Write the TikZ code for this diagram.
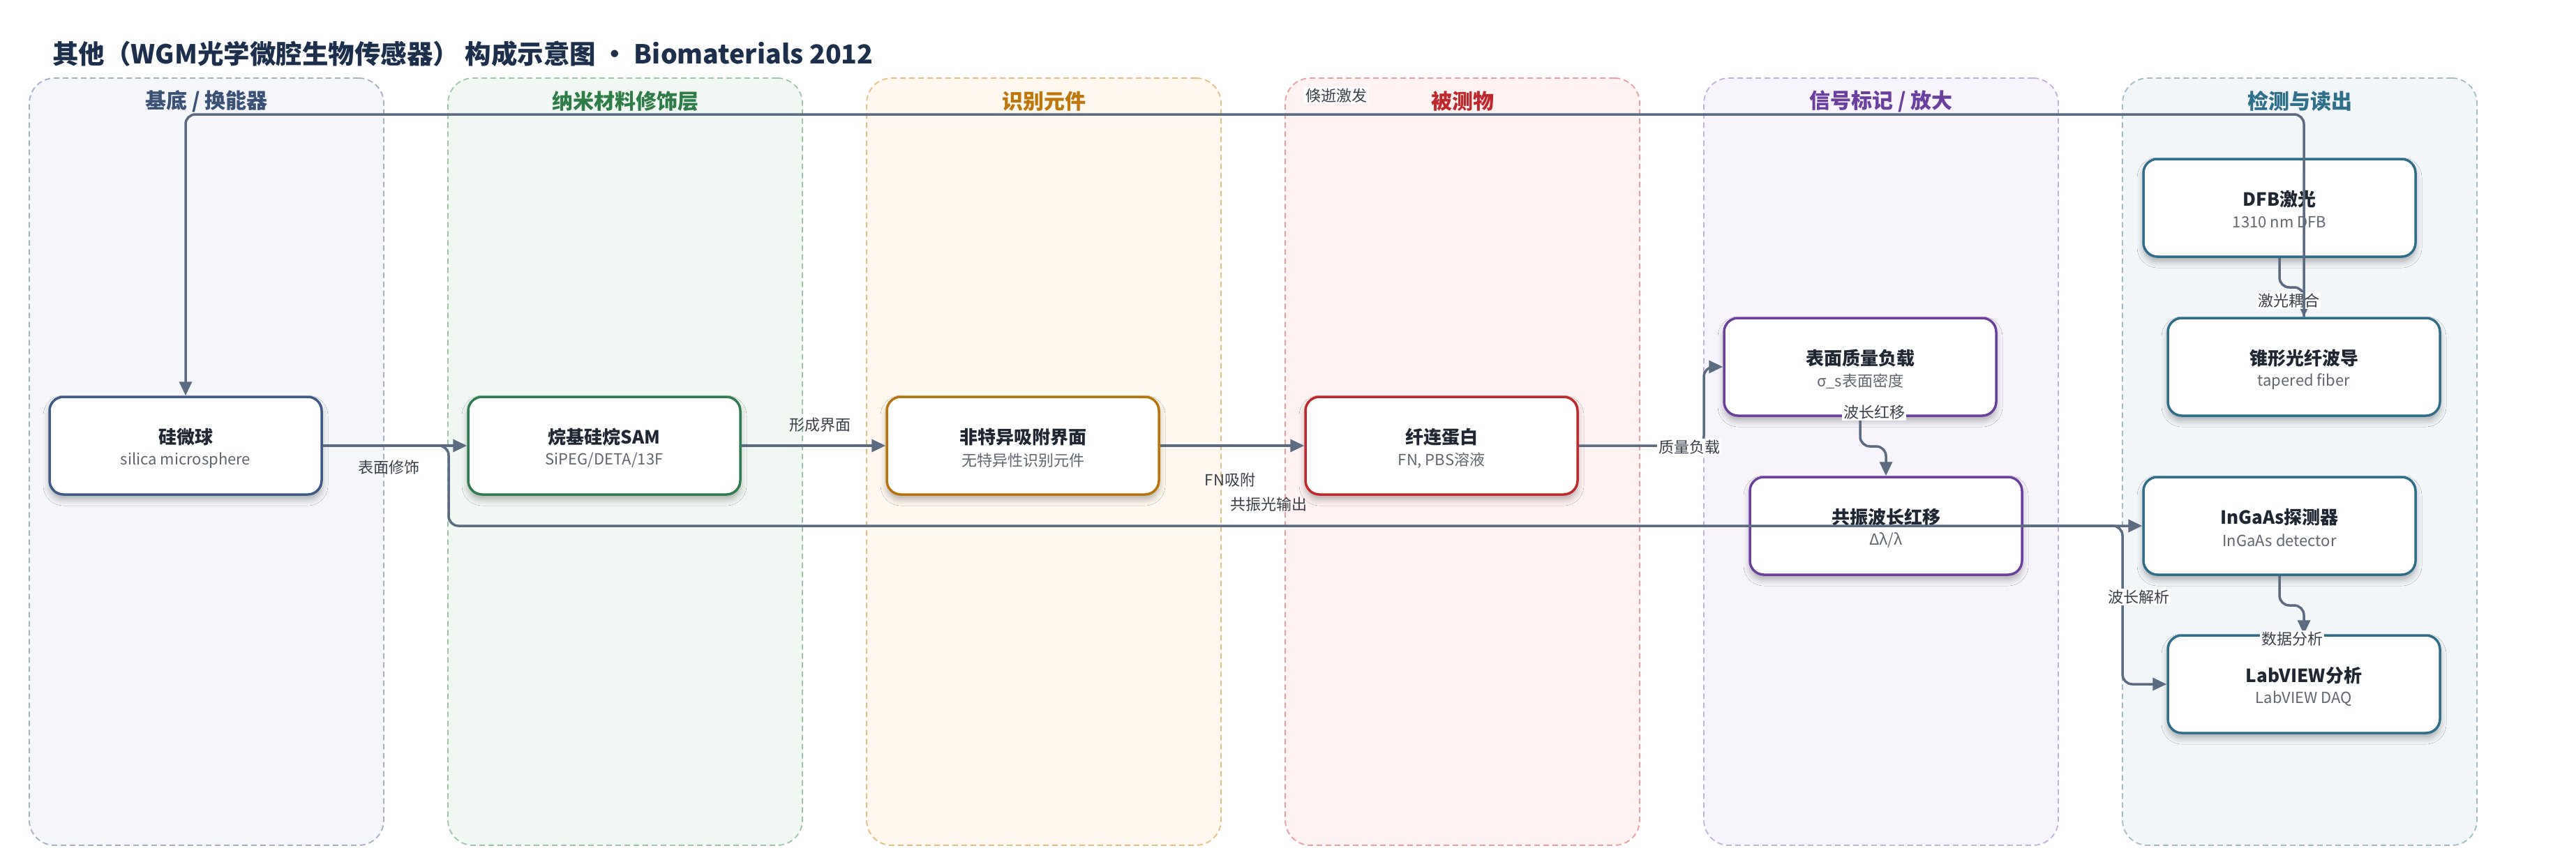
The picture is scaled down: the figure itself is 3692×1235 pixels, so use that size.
\documentclass[tikz,border=0pt]{standalone}
\usepackage{fontspec}
\setmainfont{Noto Sans CJK SC}
\usetikzlibrary{arrows.meta,calc,shadows.blur}
\newcommand\fsz[1]{\fontsize{#1}{#1}\selectfont}
\definecolor{edgec}{HTML}{5B6B82}
\definecolor{titlec}{HTML}{1C2F4D}
\definecolor{ink}{HTML}{1F2733}
\definecolor{subc}{HTML}{5F6670}
\definecolor{labc}{HTML}{3A404A}
\definecolor{LAf}{HTML}{F4F6FA}\definecolor{LAb}{HTML}{A3B1C6}\definecolor{LAt}{HTML}{3A5278}
\definecolor{LBf}{HTML}{F1F8F3}\definecolor{LBb}{HTML}{9CC8A8}\definecolor{LBt}{HTML}{2E7D46}
\definecolor{LCf}{HTML}{FEF8EF}\definecolor{LCb}{HTML}{E8BE80}\definecolor{LCt}{HTML}{BF760C}
\definecolor{LDf}{HTML}{FEF3F2}\definecolor{LDb}{HTML}{EB9E9C}\definecolor{LDt}{HTML}{C0292B}
\definecolor{LEf}{HTML}{F7F4FB}\definecolor{LEb}{HTML}{C4B0E0}\definecolor{LEt}{HTML}{6B3FA0}
\definecolor{LFf}{HTML}{F2F6F8}\definecolor{LFb}{HTML}{A0BDC8}\definecolor{LFt}{HTML}{2E6F8C}
\definecolor{NA}{HTML}{3D5A88}
\definecolor{NB}{HTML}{2E7D4E}
\definecolor{NC}{HTML}{B8730C}
\definecolor{ND}{HTML}{C0292B}
\definecolor{NE}{HTML}{6B3FA0}
\definecolor{NF}{HTML}{2E6E8A}
\tikzset{
  lanebox/.style n args={2}{fill=#1, draw=#2, line width=1.8pt, dash pattern=on 8pt off 5pt,
    rounded corners=36pt, minimum width=508pt, minimum height=1100pt, inner sep=0pt},
  lanetitle/.style={font=\fsz{30}\bfseries, inner sep=0pt},
  box/.style={draw=#1, line width=3.5pt, fill=white, rounded corners=20pt,
    minimum width=390pt, minimum height=140pt, inner sep=0pt,
    blur shadow={shadow xshift=0pt, shadow yshift=-7pt, shadow blur radius=9pt, shadow opacity=30}},
  ntitle/.style={font=\fsz{26}\bfseries, text=ink, inner sep=0pt},
  nsub/.style={font=\fsz{22}, text=subc, inner sep=0pt},
  conn/.style={draw=edgec, line width=3.5pt, rounded corners=14pt, -{Triangle[length=20pt,width=18pt]}},
  elabel/.style={font=\fsz{22}, text=labc, inner sep=2pt},
  elabelbg/.style={elabel, fill=white},
}
\newcommand\mkbox[6]{%
  \node[box=#4] (#1) at (#2,#3) {};
  \node[ntitle] (#1-t) at (#2,#3-12) {#5};
  \node[nsub] (#1-s) at (#2,#3+21) {#6};}
\begin{document}
\begin{tikzpicture}[x=1pt,y=-1pt]
\useasboundingbox (0,0) rectangle (3692,1235);
\fill[white] (0,0) rectangle (3692,1235);

% lanes
\node[lanebox={LAf}{LAb}] (lane1) at (296,662) {};
\node[lanebox={LBf}{LBb}] (lane2) at (896,662) {};
\node[lanebox={LCf}{LCb}] (lane3) at (1496,662) {};
\node[lanebox={LDf}{LDb}] (lane4) at (2096,662) {};
\node[lanebox={LEf}{LEb}] (lane5) at (2696,662) {};
\node[lanebox={LFf}{LFb}] (lane6) at (3296,662) {};
\node[lanetitle, text=LAt] (lt1) at (296,145) {基底 / 换能器};
\node[lanetitle, text=LBt] (lt2) at (896,145) {纳米材料修饰层};
\node[lanetitle, text=LCt] (lt3) at (1496,145) {识别元件};
\node[lanetitle, text=LDt] (lt4) at (2096,145) {被测物};
\node[lanetitle, text=LEt] (lt5) at (2696,145) {信号标记 / 放大};
\node[lanetitle, text=LFt] (lt6) at (3296,145) {检测与读出};

% title
\node[anchor=west, font=\fsz{37.5}\bfseries, text=titlec, inner sep=0pt] (title) at (75,77)
  {其他（WGM光学微腔生物传感器） 构成示意图 • Biomaterials 2012};

% nodes
\mkbox{silica}{266}{639}{NA}{硅微球}{silica microsphere}
\mkbox{sam}{866}{639}{NB}{烷基硅烷SAM}{SiPEG/DETA/13F}
\mkbox{nonspec}{1466}{639}{NC}{非特异吸附界面}{无特异性识别元件}
\mkbox{fn}{2066}{639}{ND}{纤连蛋白}{FN, PBS溶液}
\mkbox{mass}{2666}{526}{NE}{表面质量负载}{σ\_s表面密度}
\mkbox{shift}{2703}{754}{NE}{共振波长红移}{Δλ/λ}
\mkbox{dfb}{3267}{298}{NF}{DFB激光}{1310 nm DFB}
\mkbox{taper}{3302}{526}{NF}{锥形光纤波导}{tapered fiber}
\mkbox{ingaas}{3267}{754}{NF}{InGaAs探测器}{InGaAs detector}
\mkbox{labview}{3302}{981}{NF}{LabVIEW分析}{LabVIEW DAQ}

% connectors
\draw[conn] (silica.east) -- (sam.west);
\draw[conn] (silica.east) -- (643,639) -- (643,754) -- (ingaas.west);
\draw[conn] (sam.east) -- (nonspec.west);
\draw[conn] (nonspec.east) -- (fn.west);
\draw[conn] (fn.east) -- (2442,639) -- (2442,526) -- (mass.west);
\draw[conn] (mass.south) -- (2666,640) -- (2703,640) -- (shift.north);
\draw[conn] (shift.east) -- (3042,754) -- (3042,981) -- (labview.west);
\draw[conn] (ingaas.south) -- (3267,868) -- (3302,868) -- (labview.north);
\draw[conn] (dfb.south) -- (3267,412) -- (3302,412) -- (taper.north);

% labels
\node[elabel] (l1) at (557,670) {表面修饰};
\node[elabel] (l2) at (1175,609) {形成界面};
\node[elabel] (l3) at (1763,688) {FN吸附};
\node[elabel] (l4) at (1818,723) {共振光输出};
\node[elabelbg] (l5) at (2421,641) {质量负载};
\node[elabelbg] (l6) at (2686,591) {波长红移};
\node[elabelbg] (l7) at (3280,431) {激光耦合};
\node[elabelbg] (l8) at (3065,856) {波长解析};
\node[elabelbg] (l9) at (3285,916) {数据分析};
\node[elabelbg] (l10) at (1915,137) {倏逝激发};

\draw[conn] (taper.north) -- (3302,164) -- (266,164) -- (silica.north);
\end{tikzpicture}
\end{document}
